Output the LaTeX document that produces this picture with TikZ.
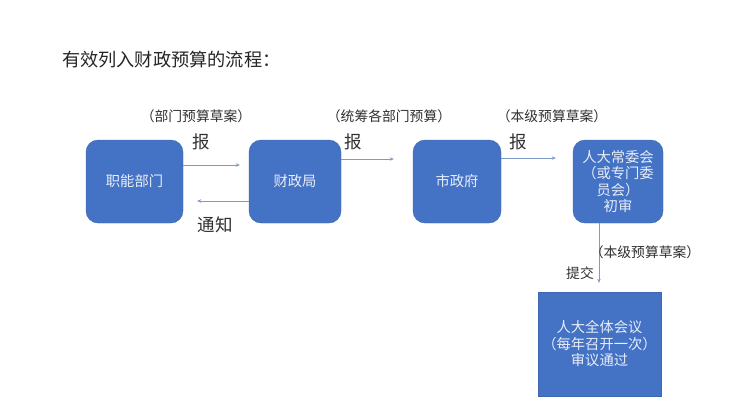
\documentclass[tikz,border=0pt]{standalone}
\usepackage{fontspec}
\newfontfamily\cjk{Noto Sans CJK SC}
\usetikzlibrary{arrows.meta}
\definecolor{boxblue}{HTML}{4472C4}
\definecolor{boxtext}{HTML}{E8EEF9}
\definecolor{arrowc}{HTML}{7F9AC8}
\definecolor{lbl}{HTML}{303030}
\tikzset{
  box/.style={rounded corners=12pt, fill=boxblue, draw=boxblue!90!black, line width=0.4pt,
    text=boxtext, font=\cjk\fontsize{14.3}{16.5}\selectfont, align=center, inner sep=2pt},
  sqbox/.style={box, rounded corners=0pt},
  arr/.style={draw=arrowc, line width=0.6pt, -{Stealth[length=4pt,width=3.5pt]}},
  lab/.style={text=lbl, font=\cjk\fontsize{13.8}{15}\selectfont, inner sep=0pt},
  bao/.style={text=lbl, font=\cjk\fontsize{17.5}{19}\selectfont, inner sep=0pt},
}
\begin{document}
\begin{tikzpicture}[x=1pt,y=-1pt]
\useasboundingbox[fill=white] (0,0) rectangle (740,416);
\node[text=black!85, font=\cjk\fontsize{18.2}{20}\selectfont, anchor=west, inner sep=0pt] (title) at (62,60) {有效列入财政预算的流程：};
\node[box, minimum width=97pt, minimum height=83pt] (b1) at (134.5,181.5) {职能部门};
\node[box, minimum width=92pt, minimum height=83pt] (b2) at (295,181.5) {财政局};
\node[box, minimum width=88pt, minimum height=83pt] (b3) at (457,181.5) {市政府};
\node[box, minimum width=90pt, minimum height=83pt] (b4) at (618,181.5) {人大常委会\\（或专门委\\员会）\\初审};
\node[sqbox, minimum width=123pt, minimum height=104pt] (b5) at (599.5,344) {人大全体会议\\（每年召开一次）\\审议通过};
\draw[arr, shorten >=9pt] ([yshift=16.5pt]b1.east) -- ([yshift=16.5pt]b2.west);
\draw[arr, shorten >=14pt] ([yshift=-19.5pt]b2.west) -- ([yshift=-19.5pt]b1.east);
\draw[arr, shorten >=19pt] ([yshift=22.5pt]b2.east) -- ([yshift=22.5pt]b3.west);
\draw[arr, shorten >=17pt] ([yshift=23.5pt]b3.east) -- ([yshift=23.5pt]b4.west);
\draw[arr, shorten >=9pt] ([xshift=-19pt]b4.south) -- ([xshift=-19pt]b4.south |- b5.north);
\node[lab] (l1) at (196,116) {（部门预算草案）};
\node[bao] (r1) at (201,142) {报};
\node[bao] (t1) at (215,225) {通知};
\node[lab] (l2) at (389,116) {（统筹各部门预算）};
\node[bao] (r2) at (353,142) {报};
\node[lab] (l3) at (552,116) {（本级预算草案）};
\node[bao] (r3) at (518,142) {报};
\node[lab] (l4) at (645,252) {（本级预算草案）};
\node[lab] (s1) at (580,273) {提交};
\end{tikzpicture}
\end{document}
